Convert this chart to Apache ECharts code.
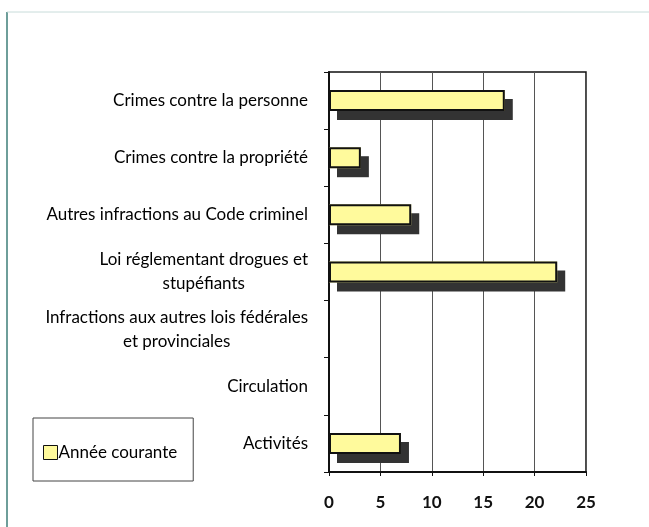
<!DOCTYPE html>
<html>
<head>
<meta charset="utf-8">
<script src="https://cdn.jsdelivr.net/npm/echarts@6/dist/echarts.min.js"></script>
<style>
	html, body { margin: 0; padding: 0; background: #fff; }
	#chart { width: 649px; height: 527px; }
</style>
</head>
<body>
<div id="chart"></div>
<script>
	// categories, top to bottom
	var categories = [
		'Crimes contre la personne',
		'Crimes contre la propriété',
		'Autres infractions au Code criminel',
		'Loi réglementant drogues et\nstupéfiants',
		'Infractions aux autres lois fédérales\net provinciales',
		'Circulation',
		'Activités'
	];
	var seriesName = 'Année courante';
	var values = [17.1, 3.1, 8.0, 22.2, 0, 0, 7.0];
	var xTicks = [0, 5, 10, 15, 20, 25];

	var myChart = echarts.init(document.getElementById('chart'));
	var font = 'Lato';

	var option = {
		animation: false,
		backgroundColor: '#fff',
		grid: {
			left: 329,
			right: 63,
			top: 72,
			bottom: 55,
			show: true,
			borderColor: '#111',
			borderWidth: 1.5
		},
		legend: {
			data: [seriesName],
			left: 33,
			top: 418,
			width: 160,
			height: 62,
			padding: [26, 16, 20, 10],
			borderColor: '#444',
			borderWidth: 1,
			itemWidth: 14,
			itemHeight: 14,
			itemGap: 0,
			icon: 'rect',
			itemStyle: { borderColor: '#111', borderWidth: 1, shadowColor: 'transparent', shadowOffsetX: 0, shadowOffsetY: 0 },
			textStyle: { fontFamily: font, fontSize: 17, color: '#000', padding: [0, 0, 0, -4] }
		},
		xAxis: {
			type: 'value',
			min: xTicks[0],
			max: xTicks[xTicks.length - 1],
			interval: 5,
			axisLine: { show: true, lineStyle: { color: '#111', width: 2 } },
			axisTick: { show: true, length: 4, lineStyle: { color: '#111' } },
			axisLabel: { fontFamily: font, fontSize: 17, fontWeight: 'bold', color: '#111', margin: 22 },
			splitLine: { show: true, lineStyle: { color: '#555', width: 1 } }
		},
		yAxis: {
			type: 'category',
			inverse: true,
			data: categories,
			axisLine: { show: true, lineStyle: { color: '#111', width: 2 } },
			axisTick: { show: true, length: 5, lineStyle: { color: '#111' } },
			axisLabel: {
				margin: 21,
				formatter: function (v) {
					return v.split('\n').map(function (s) { return '{c|' + s + '}'; }).join('\n');
				},
				rich: {
					c: { fontFamily: font, fontSize: 17, color: '#000', align: 'center', lineHeight: 24 }
				}
			}
		},
		series: [
			// fill + drop shadow
			{
				name: seriesName,
				type: 'bar',
				barWidth: 21,
				data: values,
				itemStyle: {
					color: '#fffa9c',
					shadowColor: '#333',
					shadowBlur: 0,
					shadowOffsetX: 8,
					shadowOffsetY: 9
				}
			},
			// outline on top
			{
				name: 'outline',
				type: 'bar',
				barWidth: 21,
				barGap: '-100%',
				data: values,
				silent: true,
				itemStyle: {
					color: 'transparent',
					borderColor: '#111',
					borderWidth: 2
				}
			}
		],
		graphic: [
			{ type: 'line', shape: { x1: 7, y1: 12, x2: 7, y2: 527 }, style: { stroke: '#6e9e9a', lineWidth: 2 } },
			{ type: 'line', shape: { x1: 7, y1: 12, x2: 649, y2: 12 }, style: { stroke: '#c8dcda', lineWidth: 1 } }
		]
	};

	option && myChart.setOption(option);
</script>
</body>
</html>
